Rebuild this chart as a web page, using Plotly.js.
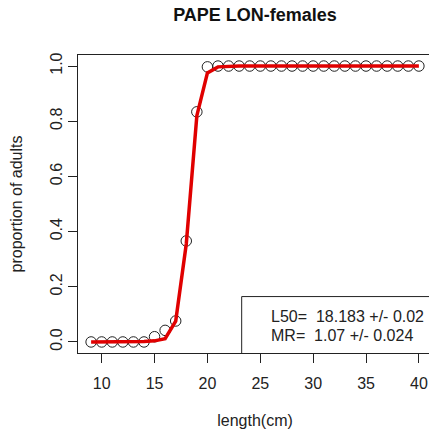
<!DOCTYPE html>
<html>
<head>
<meta charset="utf-8">
<script src="https://cdn.plot.ly/plotly-3.0.1.min.js"></script>
<style>
html,body{margin:0;padding:0;overflow:hidden;background:#fff;}
#chart{width:440px;height:432px;}
</style>
</head>
<body>
<div id="chart"></div>
<script>
// Observed proportions of adults by length class
const lengths = [9,10,11,12,13,14,15,16,17,18,19,20,21,22,23,24,25,26,27,28,29,30,31,32,33,34,35,36,37,38,39,40];
const observed = [0,0,0,0,0,0,0.019,0.042,0.076,0.366,0.834,0.997,1,1,1,1,1,1,1,1,1,1,1,1,1,1,1,1,1,1,1,1];
// Fitted ogive
const fitted = [0,0,0,0,0,0.002,0.004,0.012,0.075,0.355,0.82,0.975,0.997,1,1,1,1,1,1,1,1,1,1,1,1,1,1,1,1,1,1,1];
const xTicks = [10,15,20,25,30,35,40];
const yTicks = [0,0.2,0.4,0.6,0.8,1.0];
const yTickText = ["0.0","0.2","0.4","0.6","0.8","1.0"];
const chartTitle = "PAPE LON-females";
const xLabel = "length(cm)";
const yLabel = "proportion of adults";
const statLines = ["L50=\u00a0 18.183 +/- 0.02", "MR=\u00a0 1.07 +/- 0.024"];

const font = "Liberation Sans, Arial, sans-serif";
const ink = "#222";

const traces = [
  {x: lengths, y: observed, type: "scatter", mode: "markers",
   marker: {symbol: "circle-open", size: 10.5, color: ink, line: {width: 1, color: ink}},
   cliponaxis: false, hoverinfo: "none"},
  {x: lengths, y: fitted, type: "scatter", mode: "lines",
   line: {color: "#e00000", width: 3.5}, hoverinfo: "none"}
];

const layout = {
  width: 440, height: 432,
  margin: {l: 78, r: 8, t: 55, b: 79, pad: 0},
  paper_bgcolor: "#fff", plot_bgcolor: "#fff",
  showlegend: false,
  font: {family: font, size: 16, color: ink},
  title: {text: "<b>" + chartTitle + "</b>", x: 0.5, xref: "paper", xanchor: "center",
          y: 1, yref: "container", yanchor: "top", pad: {t: 8},
          font: {family: font, size: 18, color: "#111"}},
  xaxis: {range: [7.76, 41.24], tickvals: xTicks, ticks: "outside", ticklen: 9, tickwidth: 1,
          tickcolor: ink, showgrid: false, zeroline: false, showline: true, mirror: true,
          linecolor: ink, linewidth: 1, tickfont: {size: 16, color: ink}, ticklabelstandoff: 7,
          title: {text: xLabel, font: {size: 16, color: ink}, standoff: 23}, automargin: false},
  yaxis: {range: [-0.04, 1.04], tickvals: yTicks, ticktext: yTickText, tickangle: -90,
          ticks: "outside", ticklen: 9, tickwidth: 1, tickcolor: ink, showgrid: false,
          zeroline: false, showline: true, mirror: true, linecolor: ink, linewidth: 1,
          tickfont: {size: 16, color: ink},
          title: {text: yLabel, font: {size: 16, color: ink}, standoff: 20}, automargin: false},
  shapes: [
    {type: "rect", xref: "x", yref: "y", x0: 23.24, x1: 42, y0: -0.05, y1: 0.1645,
     line: {color: ink, width: 1}, fillcolor: "rgba(0,0,0,0)", layer: "above"}
  ],
  annotations: [
    {xref: "x", yref: "y", x: 25.8, y: 0.094, text: statLines[0], showarrow: false,
     xanchor: "left", yanchor: "middle", font: {size: 16, color: ink}},
    {xref: "x", yref: "y", x: 25.8, y: 0.0217, text: statLines[1], showarrow: false,
     xanchor: "left", yanchor: "middle", font: {size: 16, color: ink}}
  ]
};

Plotly.newPlot("chart", traces, layout, {displayModeBar: false, staticPlot: true});
</script>
</body>
</html>
